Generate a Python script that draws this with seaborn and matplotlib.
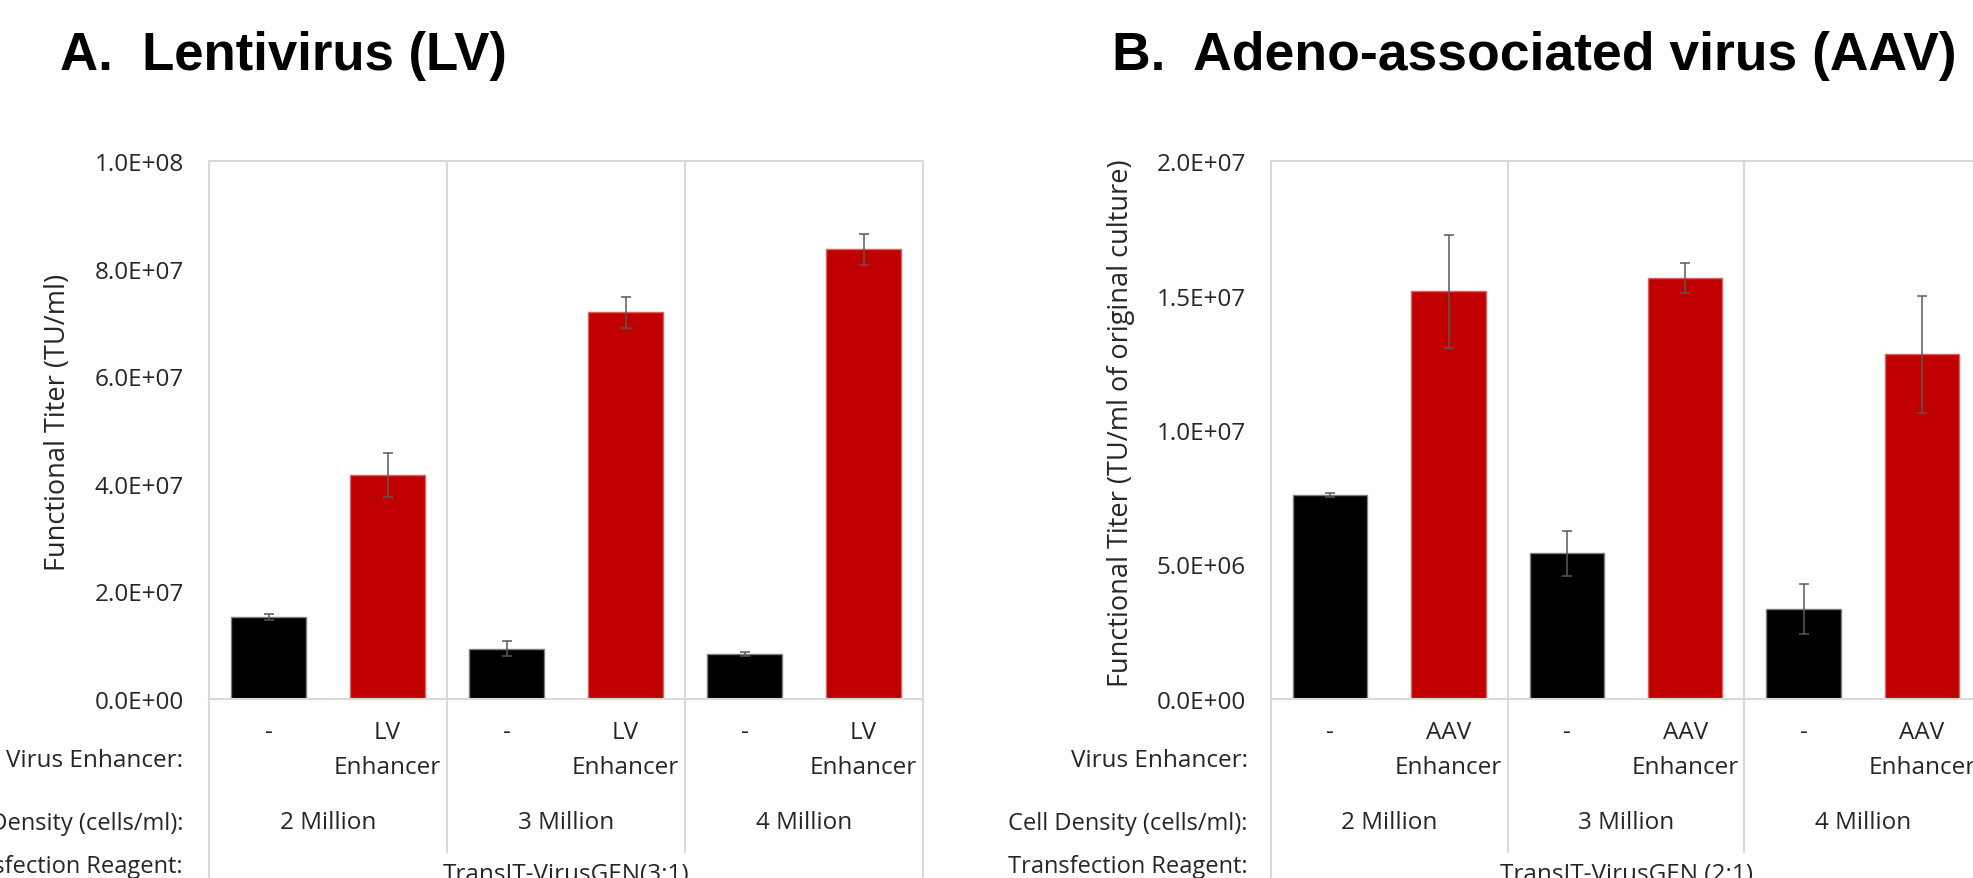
import numpy as np
import pandas as pd
import seaborn as sns
import matplotlib
matplotlib.use("Agg")
import matplotlib.pyplot as plt
from matplotlib.ticker import FuncFormatter
from matplotlib.transforms import blended_transform_factory

# -----------------------------------------------------
# DATA
# -----------------------------------------------------
densities = ["2 Million", "3 Million", "4 Million"]
treatment = ["none", "enhancer", "none", "enhancer", "none", "enhancer"]

lv_labels = ["-", "LV\nEnhancer", "-", "LV\nEnhancer", "-", "LV\nEnhancer"]
lv_mean = [1.52e7, 4.17e7, 9.3e6, 7.19e7, 8.4e6, 8.36e7]
lv_err = [0.55e6, 4.1e6, 1.4e6, 2.9e6, 0.35e6, 2.9e6]

aav_labels = ["-", "AAV\nEnhancer", "-", "AAV\nEnhancer", "-", "AAV\nEnhancer"]
aav_mean = [7.59e6, 1.515e7, 5.41e6, 1.566e7, 3.34e6, 1.282e7]
aav_err = [0.08e6, 2.1e6, 0.85e6, 0.56e6, 0.93e6, 2.18e6]

W, H = 1973, 879
RED = "#C00000"
GRID = "#D9D9D9"
TXT = "#262626"
FS = 17.5

sns.set_style("white")
plt.rcParams["font.family"] = ["Open Sans", "DejaVu Sans"]

fig = plt.figure(figsize=(W / 100, H / 100), dpi=100)


def fy(px):
    return 1 - px / H


def panel(left_px, right_px, labels, mean, err, ymax, yticks, ylabel, reagent):
    ax = fig.add_axes([left_px / W, fy(700), (right_px - left_px) / W, (700 - 162) / H])
    df = pd.DataFrame({
        "cond": [f"c{i}" for i in range(len(mean))],
        "value": mean,
        "kind": treatment,
    })
    sns.barplot(data=df, x="cond", y="value", hue="kind", dodge=False,
                palette={"none": "black", "enhancer": RED}, saturation=1,
                width=0.63, legend=False, ax=ax, linewidth=1.0)
    for p in ax.patches:
        fc = p.get_facecolor()
        p.set_edgecolor("#7f7f7f" if fc[0] < 0.5 else "#e06060")

    xs = ax.get_xticks()
    ax.errorbar(xs, mean, yerr=err, fmt="none", ecolor="#595959",
                elinewidth=1.1, capsize=3.3, capthick=1.1, zorder=5)

    ax.set_xlim(-0.5, len(mean) - 0.5)
    ax.set_ylim(0, ymax)
    ax.set_yticks(yticks)
    ax.yaxis.set_major_formatter(FuncFormatter(lambda v, pos: f"{v:.1E}"))
    ax.set_xticks(xs)
    ax.set_xticklabels(labels, linespacing=1.6)
    ax.tick_params(axis="y", length=0, pad=18, labelsize=FS, labelcolor=TXT)
    ax.tick_params(axis="x", length=0, pad=15, labelsize=FS, labelcolor=TXT)
    ax.set_xlabel("")
    ax.set_ylabel(ylabel, fontsize=19.5, color=TXT)
    ax.yaxis.set_label_coords(-0.192, 0.515)
    for s in ax.spines.values():
        s.set_visible(True)
        s.set_color(GRID)
        s.set_linewidth(1.5)

    # category table lines (Excel multi-level axis)
    tr = blended_transform_factory(ax.transData, ax.transAxes)
    low_inner = (700 - 853) / 538
    low_outer = (700 - 885) / 538
    for xv in [1.5, 3.5]:
        ax.plot([xv, xv], [1, low_inner], transform=tr, color=GRID, lw=1.5,
                clip_on=False, zorder=0)
    for xv in [-0.5, len(mean) - 0.5]:
        ax.plot([xv, xv], [0, low_outer], transform=tr, color=GRID, lw=1.5,
                clip_on=False, zorder=0)

    # density row and reagent row
    trf = blended_transform_factory(ax.transData, fig.transFigure)
    for i, d in enumerate(densities):
        fig.text(2 * i + 0.5, fy(829), d, transform=trf, ha="center",
                 va="baseline", fontsize=FS, color=TXT)
    fig.text((len(mean) - 1) / 2, fy(881), reagent, transform=trf, ha="center",
             va="baseline", fontsize=FS, color=TXT)
    return ax


ax1 = panel(209, 923, lv_labels, lv_mean, lv_err, 1.0e8,
            np.arange(0, 1.0e8 + 1, 2.0e7), "Functional Titer (TU/ml)",
            "TransIT-VirusGEN(3:1)")
ax2 = panel(1271, 1981, aav_labels, aav_mean, aav_err, 2.0e7,
            np.arange(0, 2.0e7 + 1, 5.0e6),
            "Functional Titer (TU/ml of original culture)",
            "TransIT-VirusGEN (2:1)")

# row headers
for xr in [183, 1248]:
    fig.text(xr / W, fy(767), "Virus Enhancer:", ha="right", va="baseline",
             fontsize=FS, color=TXT)
    fig.text(xr / W, fy(830), "Cell Density (cells/ml):", ha="right",
             va="baseline", fontsize=17, color=TXT)
    fig.text(xr / W, fy(873), "Transfection Reagent:", ha="right",
             va="baseline", fontsize=17, color=TXT)

# panel titles
fig.text(60 / W, fy(70), "A.  Lentivirus (LV)", fontsize=38,
         fontweight="bold", family=["Liberation Sans", "DejaVu Sans"],
         va="baseline", color="black")
fig.text(1112 / W, fy(70), "B.  Adeno-associated virus (AAV)", fontsize=38.5,
         fontweight="bold", family=["Liberation Sans", "DejaVu Sans"],
         va="baseline", color="black")

fig.savefig("out.png", dpi=100)
